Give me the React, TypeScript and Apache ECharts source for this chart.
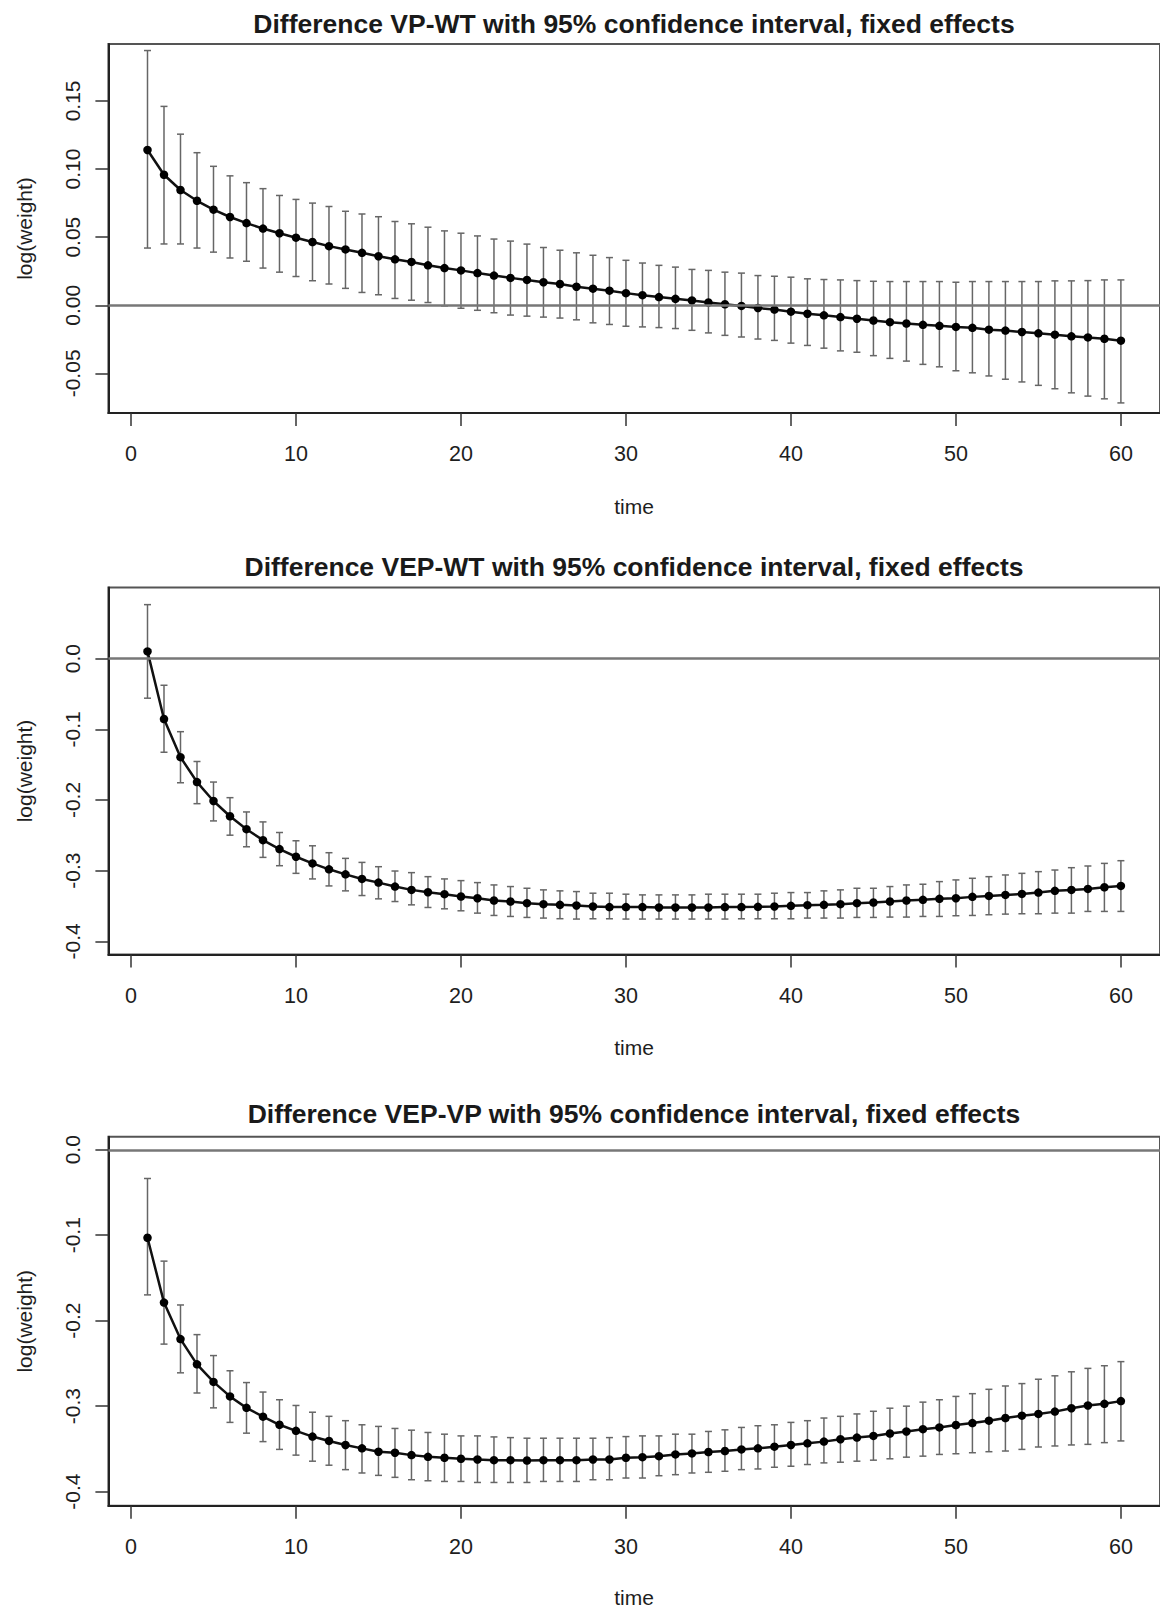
import React, { useEffect, useRef } from "react";
import * as echarts from "echarts";

const time = [1, 2, 3, 4, 5, 6, 7, 8, 9, 10, 11, 12, 13, 14, 15, 16, 17, 18, 19, 20, 21, 22, 23, 24, 25, 26, 27, 28, 29, 30, 31, 32, 33, 34, 35, 36, 37, 38, 39, 40, 41, 42, 43, 44, 45, 46, 47, 48, 49, 50, 51, 52, 53, 54, 55, 56, 57, 58, 59, 60];

const titles = [
  "Difference VP-WT with 95% confidence interval, fixed effects",
  "Difference VEP-WT with 95% confidence interval, fixed effects",
  "Difference VEP-VP with 95% confidence interval, fixed effects",
];
const xAxisName = "time";
const yAxisName = "log(weight)";

const xTicks = [0, 10, 20, 30, 40, 50, 60];
const yTicksTop = [-0.05, 0, 0.05, 0.1, 0.15];
const yTicksMid = [-0.4, -0.3, -0.2, -0.1, 0];
const yTicksBot = [-0.4, -0.3, -0.2, -0.1, 0];

// Difference VP-WT
const vpwtMean = [0.114, 0.0958, 0.0846, 0.0767, 0.0702, 0.0648, 0.0603, 0.0563, 0.0529, 0.0496, 0.0464, 0.0434, 0.041, 0.0385, 0.036, 0.0337, 0.0318, 0.0293, 0.0273, 0.0256, 0.0236, 0.0218, 0.0201, 0.0186, 0.0169, 0.0156, 0.0136, 0.0122, 0.0107, 0.0089, 0.0074, 0.006, 0.0047, 0.0035, 0.002, 0.0007, -0.0005, -0.002, -0.0032, -0.0047, -0.0062, -0.0074, -0.0087, -0.0099, -0.0112, -0.0124, -0.0134, -0.0144, -0.0151, -0.0159, -0.0166, -0.0179, -0.0186, -0.0196, -0.0206, -0.0216, -0.0228, -0.0236, -0.0246, -0.026];
const vpwtUpper = [0.187, 0.146, 0.1256, 0.112, 0.102, 0.095, 0.09, 0.0856, 0.0806, 0.0777, 0.075, 0.0725, 0.069, 0.067, 0.065, 0.0615, 0.0598, 0.0573, 0.0546, 0.0529, 0.0509, 0.0486, 0.0471, 0.0449, 0.0424, 0.0404, 0.0385, 0.0367, 0.035, 0.033, 0.031, 0.0293, 0.028, 0.0263, 0.0256, 0.0243, 0.0236, 0.0218, 0.0213, 0.0206, 0.0194, 0.0189, 0.0186, 0.0181, 0.0176, 0.0174, 0.0174, 0.0174, 0.0174, 0.0169, 0.0174, 0.0174, 0.0174, 0.0174, 0.0174, 0.0179, 0.0179, 0.0181, 0.0186, 0.0186];
const vpwtLower = [0.042, 0.045, 0.045, 0.042, 0.039, 0.0347, 0.0323, 0.0273, 0.0243, 0.0211, 0.018, 0.0156, 0.0124, 0.0094, 0.0077, 0.005, 0.0037, 0.002, -0.0005, -0.0022, -0.0037, -0.0055, -0.0072, -0.008, -0.0087, -0.0094, -0.0107, -0.0129, -0.0141, -0.0154, -0.0159, -0.0164, -0.0171, -0.0184, -0.0203, -0.0221, -0.0233, -0.0248, -0.0258, -0.0278, -0.0295, -0.0315, -0.0335, -0.0345, -0.037, -0.039, -0.041, -0.0434, -0.0452, -0.0481, -0.0496, -0.0519, -0.0543, -0.0563, -0.0588, -0.0613, -0.0643, -0.0667, -0.0687, -0.0717];

// Difference VEP-WT
const vepwtMean = [0.0103, -0.0854, -0.1394, -0.1746, -0.2014, -0.223, -0.2413, -0.2568, -0.2695, -0.2803, -0.2897, -0.2981, -0.3052, -0.3117, -0.3169, -0.3225, -0.3272, -0.3305, -0.3333, -0.3366, -0.339, -0.3423, -0.3437, -0.346, -0.3474, -0.3484, -0.3493, -0.3507, -0.3516, -0.3516, -0.3516, -0.3521, -0.3521, -0.3521, -0.3521, -0.3516, -0.3516, -0.3512, -0.3507, -0.3498, -0.3488, -0.3484, -0.3474, -0.346, -0.3451, -0.3437, -0.3423, -0.3413, -0.3399, -0.339, -0.3371, -0.3357, -0.3343, -0.3329, -0.331, -0.3286, -0.3272, -0.3258, -0.3235, -0.3216];
const vepwtUpper = [0.0765, -0.0376, -0.1033, -0.1455, -0.1746, -0.1967, -0.2169, -0.231, -0.246, -0.2577, -0.2648, -0.2746, -0.2826, -0.2883, -0.2944, -0.3005, -0.3028, -0.3085, -0.3117, -0.3141, -0.3169, -0.3202, -0.3225, -0.3249, -0.3272, -0.3286, -0.3296, -0.3319, -0.3319, -0.3333, -0.3343, -0.3343, -0.3343, -0.3343, -0.3333, -0.3333, -0.3333, -0.3333, -0.3319, -0.331, -0.331, -0.3286, -0.3272, -0.3249, -0.3249, -0.3225, -0.3202, -0.3192, -0.3155, -0.3131, -0.3108, -0.3085, -0.3061, -0.3038, -0.3014, -0.2991, -0.2958, -0.2934, -0.2897, -0.2859];
const vepwtLower = [-0.0559, -0.1324, -0.1756, -0.2052, -0.2296, -0.2498, -0.2662, -0.2812, -0.293, -0.3038, -0.3117, -0.3216, -0.3286, -0.3352, -0.3399, -0.3437, -0.3484, -0.3521, -0.354, -0.3568, -0.3601, -0.3634, -0.3648, -0.3662, -0.3671, -0.368, -0.3685, -0.3681, -0.3681, -0.3685, -0.3685, -0.3685, -0.3685, -0.3685, -0.3685, -0.3685, -0.3681, -0.3681, -0.3681, -0.3681, -0.3671, -0.3671, -0.3671, -0.3662, -0.3662, -0.3657, -0.3657, -0.3648, -0.3648, -0.3638, -0.3634, -0.3624, -0.3615, -0.361, -0.361, -0.3601, -0.3601, -0.3577, -0.3577, -0.3577];

// Difference VEP-VP
const vepvpMean = [-0.103, -0.1788, -0.2215, -0.2511, -0.2716, -0.2886, -0.302, -0.3123, -0.3218, -0.3289, -0.3356, -0.3407, -0.3454, -0.3494, -0.3533, -0.3545, -0.3573, -0.3593, -0.3604, -0.3616, -0.3624, -0.3632, -0.3632, -0.3636, -0.3632, -0.3632, -0.3632, -0.3624, -0.3624, -0.3604, -0.3597, -0.3585, -0.3565, -0.3553, -0.3537, -0.3525, -0.3506, -0.3494, -0.3474, -0.3454, -0.3435, -0.3415, -0.3387, -0.3368, -0.3348, -0.332, -0.3296, -0.3269, -0.3249, -0.3221, -0.3198, -0.317, -0.3139, -0.3111, -0.3091, -0.3064, -0.3024, -0.2992, -0.2973, -0.2941];
const vepvpUpper = [-0.0336, -0.1303, -0.1816, -0.2163, -0.2408, -0.2586, -0.2724, -0.2835, -0.2925, -0.2992, -0.3071, -0.3119, -0.317, -0.3218, -0.3237, -0.3261, -0.3281, -0.3308, -0.3328, -0.3348, -0.3348, -0.336, -0.3368, -0.3375, -0.3375, -0.3375, -0.3375, -0.3375, -0.3368, -0.3356, -0.3348, -0.3348, -0.3328, -0.3328, -0.3296, -0.3277, -0.3249, -0.3229, -0.3218, -0.319, -0.317, -0.3139, -0.3119, -0.3091, -0.306, -0.3024, -0.3, -0.2953, -0.2925, -0.2886, -0.2854, -0.2803, -0.2764, -0.2736, -0.2685, -0.2645, -0.2598, -0.2558, -0.2527, -0.2479];
const vepvpLower = [-0.1698, -0.2274, -0.261, -0.2846, -0.302, -0.319, -0.3316, -0.3415, -0.3506, -0.3573, -0.3644, -0.3691, -0.3743, -0.3782, -0.381, -0.3833, -0.3861, -0.3873, -0.3881, -0.3881, -0.3893, -0.3893, -0.3893, -0.3893, -0.3881, -0.3881, -0.3881, -0.3861, -0.3861, -0.3841, -0.3841, -0.3814, -0.3802, -0.3782, -0.3774, -0.3762, -0.3743, -0.3735, -0.3715, -0.3703, -0.3683, -0.3664, -0.3656, -0.3644, -0.3632, -0.3616, -0.3597, -0.3585, -0.3565, -0.3557, -0.3545, -0.3533, -0.3525, -0.3506, -0.3478, -0.3466, -0.3454, -0.3447, -0.3427, -0.3407];

const FONT = '"Liberation Sans", Arial, Helvetica, sans-serif';

const panels = [
  { mean: vpwtMean, lo: vpwtLower, hi: vpwtUpper, yTicks: yTicksTop, dec: 2, top: 44, height: 369, yMin: -0.0791, yMax: 0.1918, titleY: 24, xNameY: 506 },
  { mean: vepwtMean, lo: vepwtLower, hi: vepwtUpper, yTicks: yTicksMid, dec: 1, top: 587.4, height: 367.2, yMin: -0.4188, yMax: 0.1009, titleY: 567, xNameY: 1047 },
  { mean: vepvpMean, lo: vepvpLower, hi: vepvpUpper, yTicks: yTicksBot, dec: 1, top: 1136.7, height: 369.1, yMin: -0.4166, yMax: 0.0153, titleY: 1114, xNameY: 1597 },
];

const GRID_LEFT = 108.4;
const GRID_WIDTH = 1053.6;

export default function App() {
  const ref = useRef<HTMLDivElement>(null);
  useEffect(() => {
    if (!ref.current) return;
    const chart = echarts.init(ref.current, undefined, { renderer: "svg" });

    const grids: any[] = [];
    const xAxes: any[] = [];
    const yAxes: any[] = [];
    const series: any[] = [];
    const graphics: any[] = [];

    panels.forEach((p, i) => {
      grids.push({
        left: GRID_LEFT,
        top: p.top,
        width: GRID_WIDTH,
        height: p.height,
        show: true,
        borderColor: "#555",
        borderWidth: 2,
        backgroundColor: "transparent",
      });
      xAxes.push({
        type: "value",
        gridIndex: i,
        min: -1.37,
        max: 62.37,
        splitLine: { show: false },
        axisLine: { show: true, onZero: false, lineStyle: { color: "#222", width: 2 } },
        axisTick: { show: true, length: 13, customValues: xTicks, lineStyle: { color: "#333", width: 1.5 } },
        axisLabel: {
          customValues: xTicks,
          margin: 30,
          fontSize: 21.5,
          fontFamily: FONT,
          color: "#1e1e1e",
          formatter: (v: number) => String(v),
        },
      });
      yAxes.push({
        type: "value",
        gridIndex: i,
        min: p.yMin,
        max: p.yMax,
        splitLine: { show: false },
        axisLine: { show: true, onZero: false, lineStyle: { color: "#222", width: 2 } },
        axisTick: { show: true, length: 13, customValues: p.yTicks, lineStyle: { color: "#333", width: 1.5 } },
        axisLabel: {
          customValues: p.yTicks,
          rotate: 90,
          margin: 25,
          fontSize: 21,
          fontFamily: FONT,
          color: "#1e1e1e",
          formatter: (v: number) => v.toFixed(p.dec),
        },
      });

      series.push({
        type: "custom",
        xAxisIndex: i,
        yAxisIndex: i,
        z: 2,
        encode: { x: 0, y: [1, 2] },
        data: time.map((t, k) => [t, p.lo[k], p.hi[k]]),
        renderItem: (params: any, api: any) => {
          const x = api.value(0);
          const pLo = api.coord([x, api.value(1)]);
          const pHi = api.coord([x, api.value(2)]);
          const cap = 3.5;
          const style = { stroke: "#666", lineWidth: 1.5 };
          return {
            type: "group",
            children: [
              { type: "line", shape: { x1: pLo[0], y1: pLo[1], x2: pHi[0], y2: pHi[1] }, style },
              { type: "line", shape: { x1: pHi[0] - cap, y1: pHi[1], x2: pHi[0] + cap, y2: pHi[1] }, style },
              { type: "line", shape: { x1: pLo[0] - cap, y1: pLo[1], x2: pLo[0] + cap, y2: pLo[1] }, style },
            ],
          };
        },
      });

      series.push({
        type: "line",
        xAxisIndex: i,
        yAxisIndex: i,
        z: 4,
        data: time.map((t, k) => [t, p.mean[k]]),
        symbol: "circle",
        symbolSize: 8.5,
        showSymbol: true,
        itemStyle: { color: "#000" },
        lineStyle: { color: "#111", width: 2.5 },
        markLine: {
          silent: true,
          symbol: "none",
          label: { show: false },
          lineStyle: { color: "#777", width: 2.5, type: "solid" },
          data: [{ yAxis: 0 }],
        },
      });

      graphics.push({
        type: "text",
        x: 634,
        y: p.titleY,
        style: {
          text: titles[i],
          fontSize: 26.5,
          fontWeight: "bold",
          fontFamily: FONT,
          fill: "#1a1a1a",
          align: "center",
          verticalAlign: "middle",
        },
      });
      graphics.push({
        type: "text",
        x: 634,
        y: p.xNameY,
        style: {
          text: xAxisName,
          fontSize: 21,
          fontFamily: FONT,
          fill: "#1e1e1e",
          align: "center",
          verticalAlign: "middle",
        },
      });
      graphics.push({
        type: "text",
        x: 24,
        y: p.top + p.height / 2,
        rotation: Math.PI / 2,
        style: {
          text: yAxisName,
          fontSize: 21,
          fontFamily: FONT,
          fill: "#1e1e1e",
          align: "center",
          verticalAlign: "middle",
        },
      });
    });

    chart.setOption({
      animation: false,
      backgroundColor: "#fff",
      grid: grids,
      xAxis: xAxes,
      yAxis: yAxes,
      series,
      graphic: graphics,
    });

    return () => chart.dispose();
  }, []);

  return (
    <div
      ref={ref}
      style={{ position: "absolute", left: 0, top: 0, width: 1160, height: 1609 }}
    />
  );
}
